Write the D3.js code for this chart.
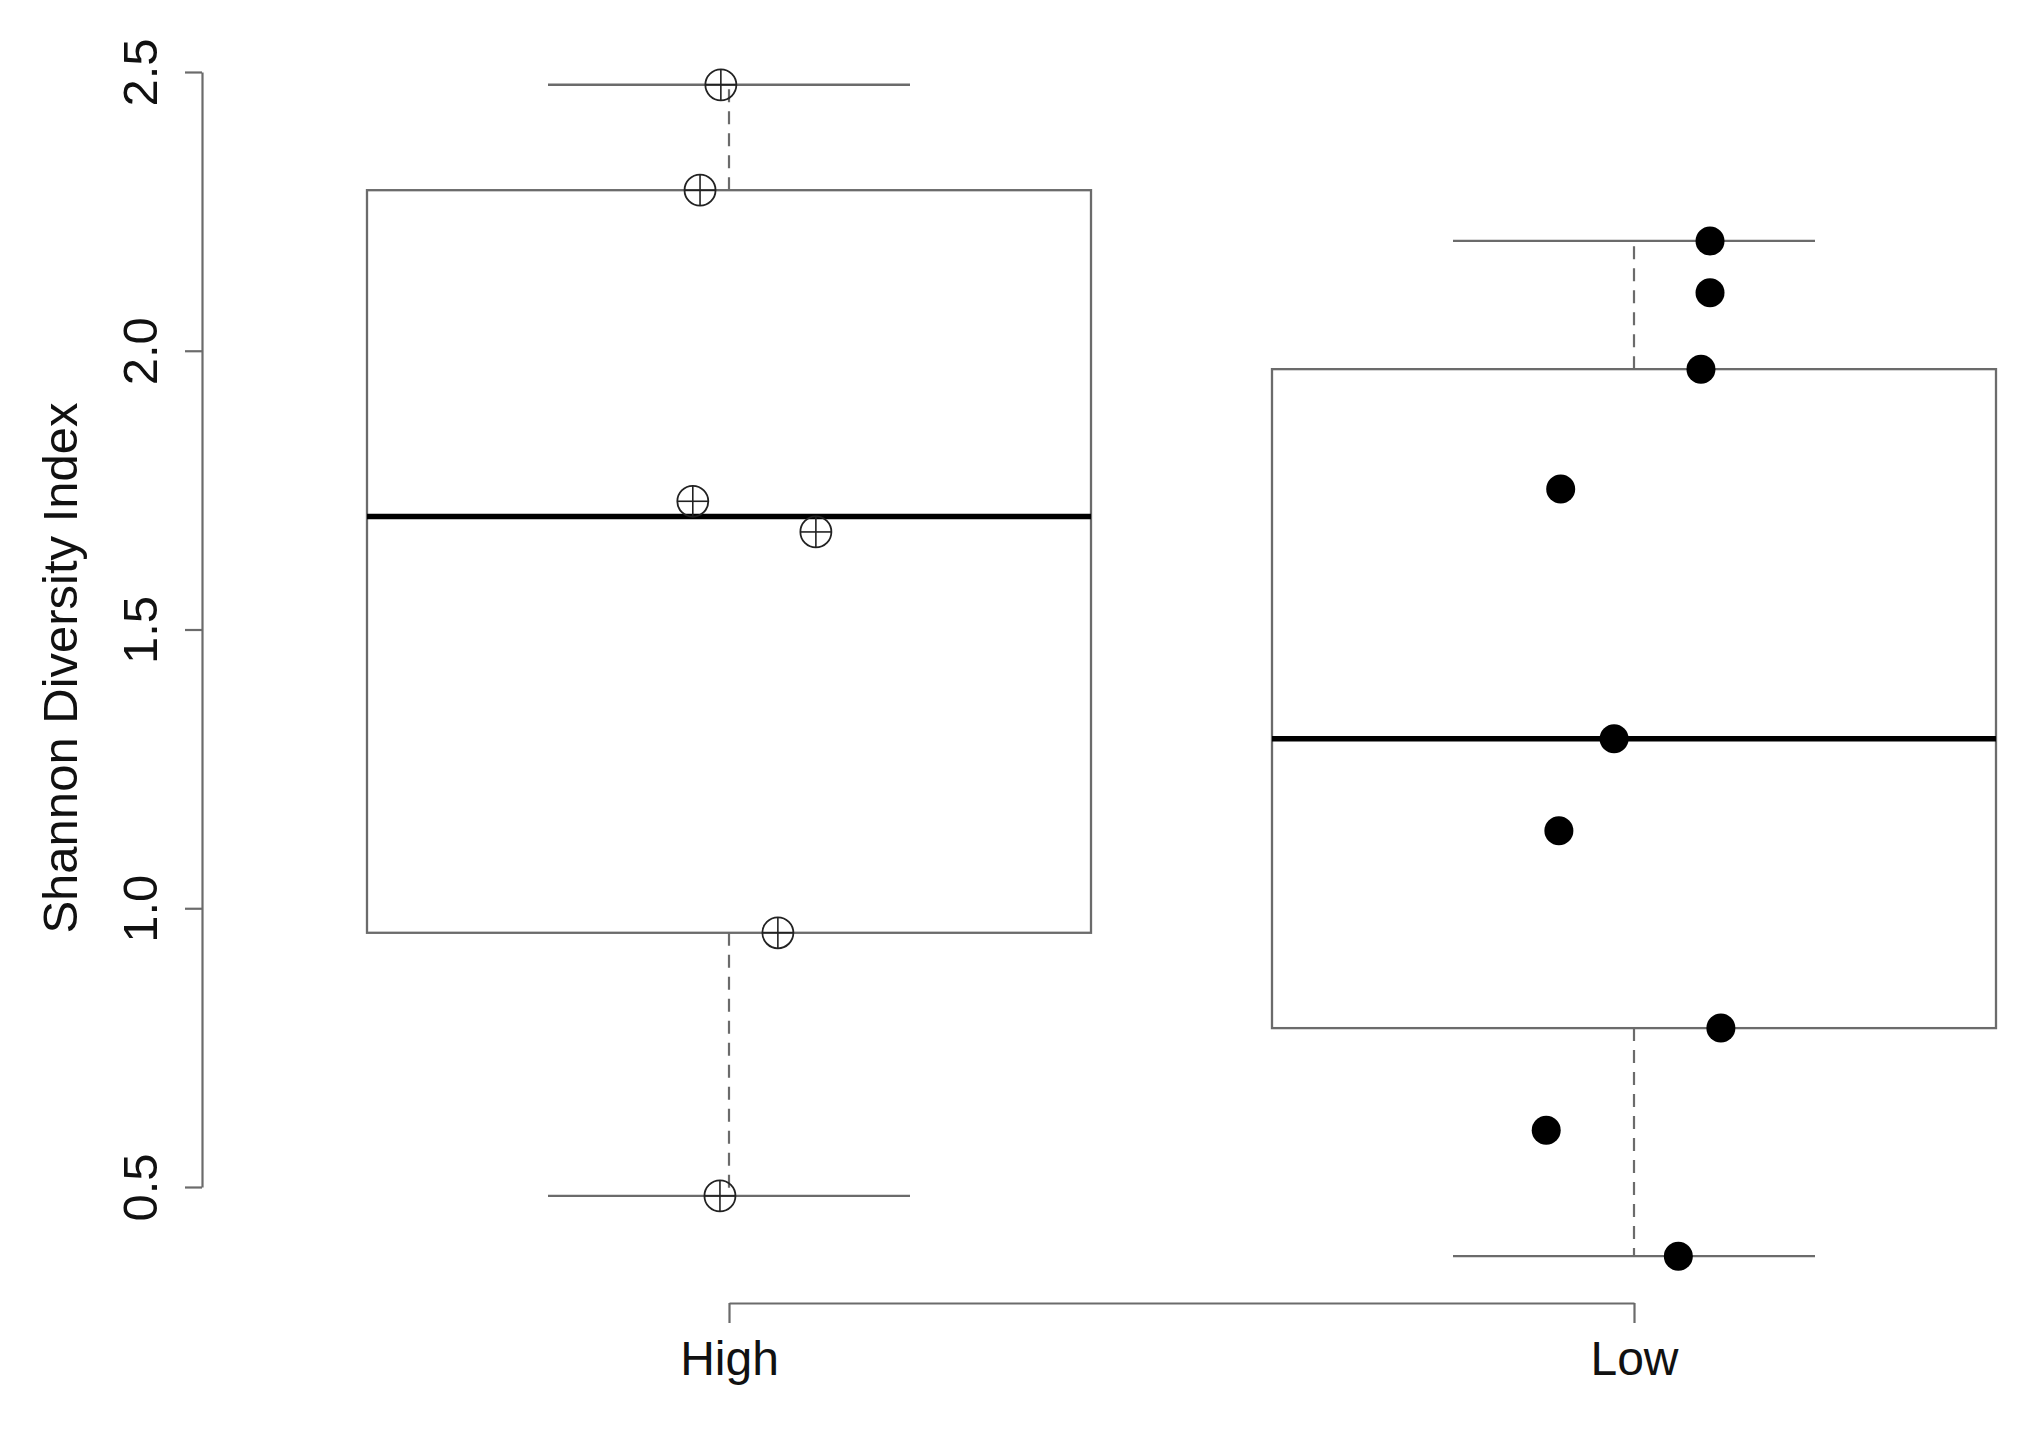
<!DOCTYPE html>
<html>
<head>
<meta charset="utf-8">
<script src="https://cdn.jsdelivr.net/npm/d3@7"></script>
<style>
  body { margin: 0; background: #fff; }
  svg text { font-family: "Liberation Sans", Arial, sans-serif; fill: #111; }
</style>
</head>
<body>
<div id="chart"></div>
<script>
// groups and observations (x positions are the jittered offsets around each group)
const groups = ["High", "Low"];
const highValues = [2.477, 2.288, 1.730, 1.675, 0.956, 0.484];
const highJitter = [-0.009, -0.032, -0.040, 0.096, 0.054, -0.010];
const lowValues = [2.197, 2.104, 1.967, 1.752, 1.304, 1.139, 0.785, 0.602, 0.376];
const lowJitter = [0.084, 0.084, 0.074, -0.081, -0.022, -0.083, 0.096, -0.097, 0.049];
const yTicks = [0.5, 1.0, 1.5, 2.0, 2.5];
const yLabel = "Shannon Diversity Index";

const width = 2030, height = 1432;
const lineGray = "#6b6b6b";

const svg = d3.select("#chart").append("svg")
    .attr("width", width)
    .attr("height", height);

const x = d3.scaleLinear().domain([1, 2]).range([729, 1634]);
const y = d3.scaleLinear().domain([0.5, 2.5]).range([1187, 72]);

// Tukey five-number summary, same as R's boxplot
function fivenum(vals) {
    const s = vals.slice().sort(d3.ascending);
    const n = s.length;
    const n4 = Math.floor((n + 3) / 2) / 2;
    const idx = [1, n4, (n + 1) / 2, n + 1 - n4, n];
    return idx.map(i => 0.5 * (s[Math.floor(i) - 1] + s[Math.ceil(i) - 1]));
}

const data = [
    { group: groups[0], pos: 1, values: highValues, jitter: highJitter, filled: false },
    { group: groups[1], pos: 2, values: lowValues, jitter: lowJitter, filled: true }
];
data.forEach(d => d.stats = fivenum(d.values));

const boxHalf = 0.4, stapleHalf = 0.2;

const box = svg.selectAll(".box")
    .data(data)
    .enter().append("g")
    .attr("class", "box");

// whiskers
box.append("line")
    .attr("x1", d => x(d.pos)).attr("x2", d => x(d.pos))
    .attr("y1", d => y(d.stats[3])).attr("y2", d => y(d.stats[4]))
    .attr("stroke", lineGray).attr("stroke-width", 2.2)
    .attr("stroke-dasharray", "13,9");
box.append("line")
    .attr("x1", d => x(d.pos)).attr("x2", d => x(d.pos))
    .attr("y1", d => y(d.stats[1])).attr("y2", d => y(d.stats[0]))
    .attr("stroke", lineGray).attr("stroke-width", 2.2)
    .attr("stroke-dasharray", "13,9");

// staples
[0, 4].forEach(k => {
    box.append("line")
        .attr("x1", d => x(d.pos - stapleHalf)).attr("x2", d => x(d.pos + stapleHalf))
        .attr("y1", d => y(d.stats[k])).attr("y2", d => y(d.stats[k]))
        .attr("stroke", lineGray).attr("stroke-width", 2.4);
});

// box
box.append("rect")
    .attr("x", d => x(d.pos - boxHalf))
    .attr("width", d => x(d.pos + boxHalf) - x(d.pos - boxHalf))
    .attr("y", d => y(d.stats[3]))
    .attr("height", d => y(d.stats[1]) - y(d.stats[3]))
    .attr("fill", "none")
    .attr("stroke", lineGray).attr("stroke-width", 2.3);

// median
box.append("line")
    .attr("x1", d => x(d.pos - boxHalf)).attr("x2", d => x(d.pos + boxHalf))
    .attr("y1", d => y(d.stats[2])).attr("y2", d => y(d.stats[2]))
    .attr("stroke", "#000").attr("stroke-width", 5.5);

// points
data.forEach(d => {
    const pts = d.values.map((v, i) => ({ v: v, xv: d.pos + d.jitter[i] }));
    const g = svg.append("g");
    if (d.filled) {
        g.selectAll("circle")
            .data(pts)
            .enter().append("circle")
            .attr("cx", p => x(p.xv))
            .attr("cy", p => y(p.v))
            .attr("r", 14.5)
            .attr("fill", "#000");
    } else {
        const m = g.selectAll("g")
            .data(pts)
            .enter().append("g")
            .attr("transform", p => `translate(${x(p.xv)},${y(p.v)})`);
        m.append("circle")
            .attr("r", 15.5)
            .attr("fill", "none")
            .attr("stroke", "#222").attr("stroke-width", 1.8);
        m.append("line").attr("x1", -15.5).attr("x2", 15.5)
            .attr("stroke", "#222").attr("stroke-width", 1.6);
        m.append("line").attr("y1", -15.5).attr("y2", 15.5)
            .attr("stroke", "#222").attr("stroke-width", 1.6);
    }
});

// y axis
const yAxis = svg.append("g")
    .attr("transform", "translate(202,0)")
    .call(d3.axisLeft(y).tickValues(yTicks).tickFormat(d3.format(".1f"))
        .tickSize(17).tickSizeOuter(0));
yAxis.selectAll("path, line").attr("stroke", lineGray).attr("stroke-width", 2.2);
yAxis.selectAll("text")
    .attr("transform", "rotate(-90)")
    .attr("x", 0).attr("y", -45).attr("dy", 0)
    .attr("text-anchor", "middle")
    .style("font-size", "49px")
    .style("font-family", "Liberation Sans, Arial, sans-serif")
    .attr("fill", "#111");

// x axis
const xAxis = svg.append("g")
    .attr("transform", "translate(0,1303)")
    .call(d3.axisBottom(x).tickValues([1, 2]).tickFormat(d => groups[d - 1])
        .tickSize(20).tickSizeOuter(0));
xAxis.selectAll("path, line").attr("stroke", lineGray).attr("stroke-width", 2.2);
xAxis.selectAll("text")
    .attr("y", 72).attr("dy", 0)
    .style("font-size", "48px")
    .style("font-family", "Liberation Sans, Arial, sans-serif")
    .attr("fill", "#111");

// y label
svg.append("text")
    .attr("transform", "translate(77,668) rotate(-90)")
    .attr("text-anchor", "middle")
    .style("font-size", "49px")
    .text(yLabel);
</script>
</body>
</html>
